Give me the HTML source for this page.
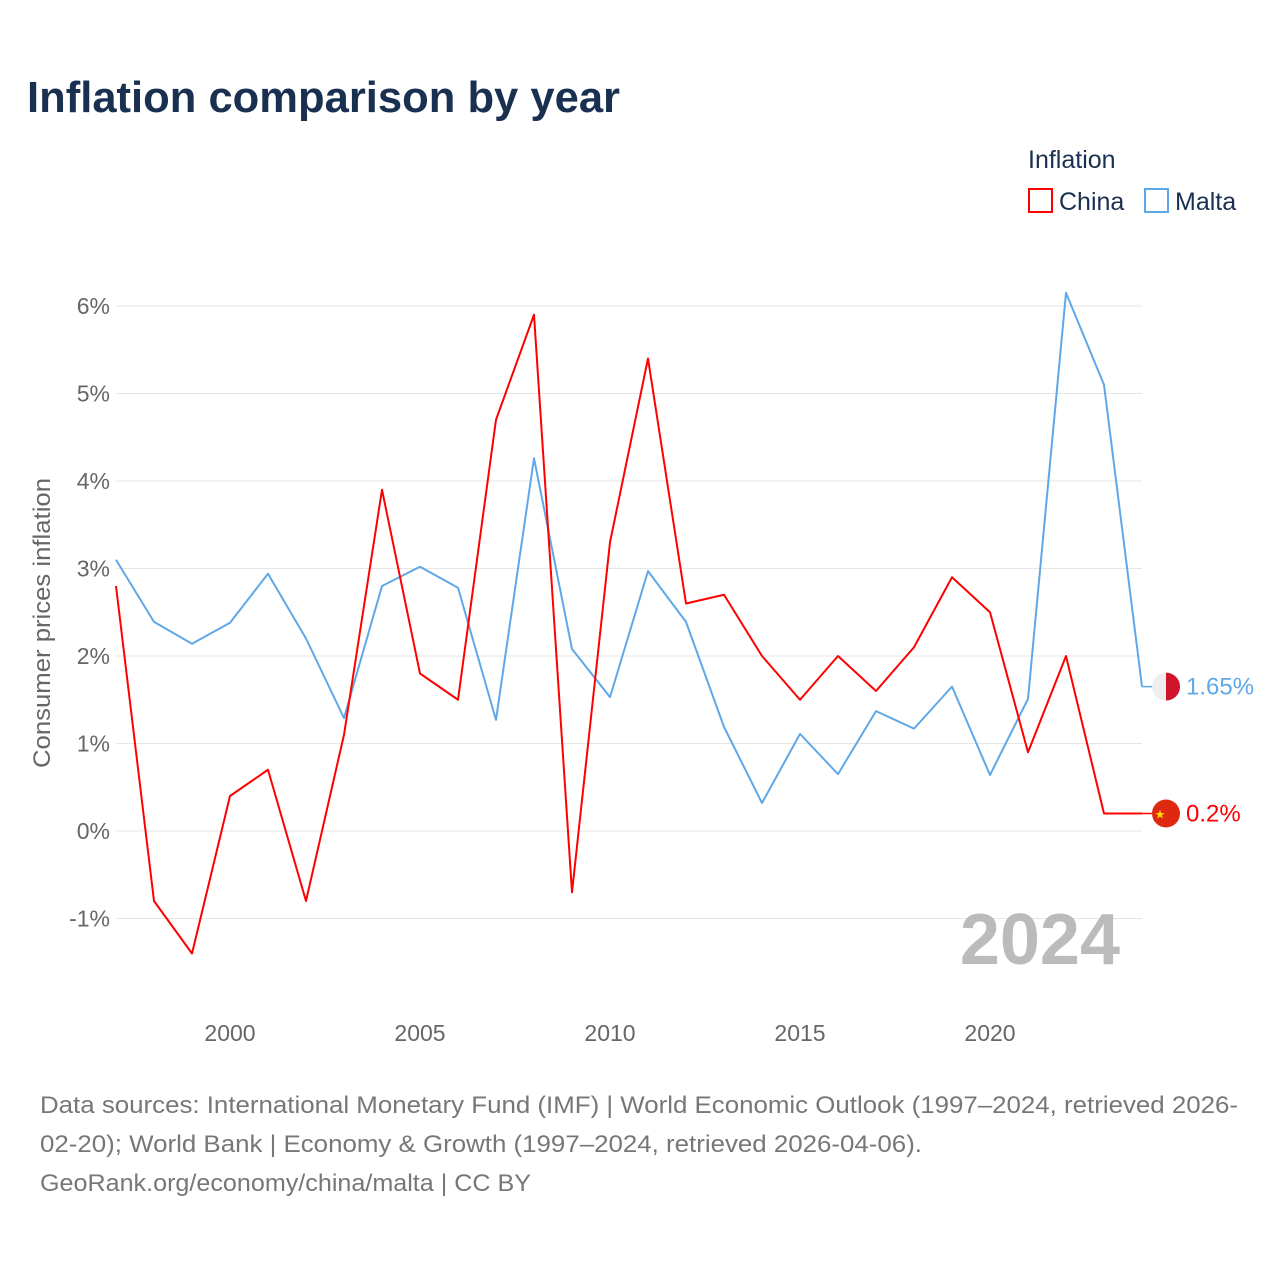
<!DOCTYPE html>
<html><head><meta charset="utf-8">
<style>
body{margin:0;background:#fff;font-family:"Liberation Sans",sans-serif;}
#wrap{position:relative;width:1280px;height:1280px;overflow:hidden;}
</style></head>
<body>
<div id="wrap">
<svg id="chart" width="1280" height="1280" xmlns="http://www.w3.org/2000/svg">
<text x="27" y="112" font-size="44" font-weight="bold" fill="#1a3050" textLength="593" lengthAdjust="spacingAndGlyphs">Inflation comparison by year</text>
<text x="1028" y="168" font-size="25" fill="#1a3050">Inflation</text>
<g><rect x="1029" y="189" width="23" height="23" fill="none" stroke="#f00" stroke-width="2"/><text x="1059" y="210" font-size="25" fill="#1a3050">China</text></g>
<g><rect x="1145" y="189" width="23" height="23" fill="none" stroke="#5fa8e8" stroke-width="2"/><text x="1175" y="210" font-size="25" fill="#1a3050">Malta</text></g>
<g id="grid"></g><g id="yticks"></g><g id="xticks"></g>
<text transform="translate(50,623) rotate(-90)" text-anchor="middle" font-size="24" fill="#666" textLength="290" lengthAdjust="spacingAndGlyphs">Consumer prices inflation</text>
<text x="1120" y="964" text-anchor="end" font-size="72" font-weight="bold" fill="#bbb">2024</text>
<g id="series"></g>
<text x="40" y="1113" font-size="24" fill="#777" textLength="1198" lengthAdjust="spacingAndGlyphs">Data sources: International Monetary Fund (IMF) | World Economic Outlook (1997–2024, retrieved 2026-</text>
<text x="40" y="1152" font-size="24" fill="#777" textLength="882" lengthAdjust="spacingAndGlyphs">02-20); World Bank | Economy &amp; Growth (1997–2024, retrieved 2026-04-06).</text>
<text x="40" y="1191" font-size="24" fill="#777" textLength="491" lengthAdjust="spacingAndGlyphs">GeoRank.org/economy/china/malta | CC BY</text>
</svg>
</div>
<script>
const years=[1997,1998,1999,2000,2001,2002,2003,2004,2005,2006,2007,2008,2009,2010,2011,2012,2013,2014,2015,2016,2017,2018,2019,2020,2021,2022,2023,2024];
const china=[2.8,-0.8,-1.4,0.4,0.7,-0.8,1.1,3.9,1.8,1.5,4.7,5.9,-0.7,3.3,5.4,2.6,2.7,2.0,1.5,2.0,1.6,2.1,2.9,2.5,0.9,2.0,0.2,0.2];
const malta=[3.1,2.39,2.14,2.38,2.94,2.2,1.29,2.8,3.02,2.78,1.27,4.26,2.08,1.53,2.97,2.39,1.19,0.32,1.11,0.65,1.37,1.17,1.65,0.64,1.51,6.15,5.1,1.65];
const yTicks=[-1,0,1,2,3,4,5,6];
const yTickLabels=["-1%","0%","1%","2%","3%","4%","5%","6%"];
const xTicks=[2000,2005,2010,2015,2020];
const NS="http://www.w3.org/2000/svg";
const x=v=>116+(v-1997)*38;
const y=v=>831-v*87.5;
function mk(tag,attrs,parent){const e=document.createElementNS(NS,tag);for(const k in attrs)e.setAttribute(k,attrs[k]);parent.appendChild(e);return e;}
const grid=document.getElementById('grid'),yt=document.getElementById('yticks'),xt=document.getElementById('xticks'),se=document.getElementById('series');
yTicks.forEach((t,i)=>{
 const l=mk('line',{x1:116,x2:1142,y1:y(t),y2:y(t),stroke:'#e6e6e6','stroke-width':1},grid);
 
 
 const tx=mk('text',{x:110,y:y(t)+8,'text-anchor':'end','font-size':23,fill:'#666'},yt);
 tx.textContent=yTickLabels[i];
 
 
});
xTicks.forEach(t=>{
 const tx=mk('text',{x:x(t),y:1041,'text-anchor':'middle','font-size':23,fill:'#666'},xt);
 tx.textContent=t;
 
 
});
function line(vals,color,name){
 const p=mk('polyline',{points:vals.map((v,i)=>x(years[i])+','+y(v)).join(' '),fill:'none',stroke:color,'stroke-width':2,'stroke-linejoin':'round'},se);
 
 
}
line(malta,'#5fa8e8','malta-line');
line(china,'#f00','china-line');
function endLabel(vals,color,name,label,flag){
 const v=vals[vals.length-1],yy=y(v),xx=x(years[years.length-1]);
 const g=mk('g',{},se);
 
 
 mk('line',{x1:xx,x2:1152,y1:yy,y2:yy,stroke:color,'stroke-width':1.5},g);
 if(flag==='mt'){
  mk('circle',{cx:1166,cy:yy,r:14,fill:'#eee'},g);
  mk('path',{d:`M1166 ${yy-14} A14 14 0 0 1 1166 ${yy+14} Z`,fill:'#cf142b'},g);
 }else{
  mk('circle',{cx:1166,cy:yy,r:14,fill:'#de2910'},g);
  mk('text',{x:1160,y:yy+5,'text-anchor':'middle','font-size':12,fill:'#ffde00'},g).textContent='★';
 }
 const t=mk('text',{x:1186,y:yy+8,'font-size':24,fill:color},g);
 t.textContent=label;
}
endLabel(malta,'#5fa8e8','malta-end-label','1.65%','mt');
endLabel(china,'#f00','china-end-label','0.2%','cn');
</script>
</body></html>
